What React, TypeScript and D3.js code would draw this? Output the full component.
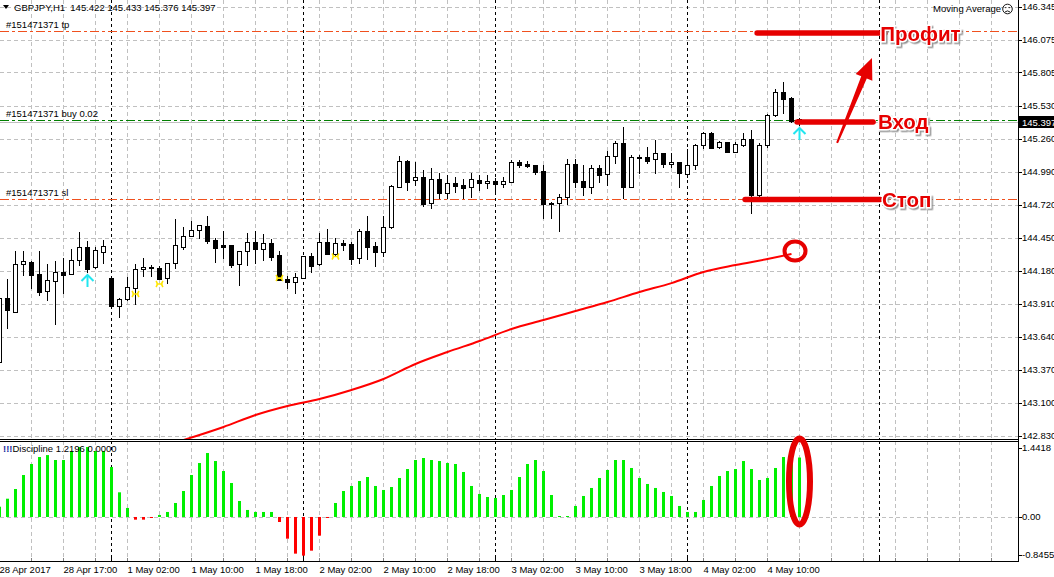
import React from "react";
import * as d3 from "d3";

const W = 1054;
const H = 577;
const PLOT_R = 1018;
const MAIN_B = 439;
const IND_T = 441;
const IND_B = 561;
const FONT = "'Liberation Sans', Arial, sans-serif";

// ---- candles (GBPJPY H1), bar 0 = 28 Apr 09:00 ----
const openP = [
  143.433, 143.956, 143.844, 144.233, 144.249, 144.153, 144.011, 144.093, 144.170, 144.156,
  144.266, 144.372, 144.208, 144.331, 144.118, 143.893, 143.946, 144.036, 144.192, 144.208,
  144.200, 144.118, 144.241, 144.377, 144.467, 144.511, 144.544, 144.432, 144.389, 144.389,
  144.233, 144.340, 144.416, 144.356, 144.405, 144.307, 144.110, 144.085, 144.123, 144.298,
  144.233, 144.413, 144.320, 144.405, 144.397, 144.282, 144.506, 144.380, 144.331, 144.536,
  144.869, 145.079, 144.921, 144.946, 144.733, 144.929, 144.815, 144.897, 144.880, 144.864,
  144.924, 144.897, 144.913, 144.889, 144.910, 145.069, 145.055, 145.044, 144.997, 144.733,
  144.733, 144.787, 145.053, 144.916, 144.869, 145.020, 144.970, 145.118, 145.224, 144.869,
  145.110, 145.110, 145.093, 145.142, 145.052, 145.071, 144.970, 145.044, 145.208, 145.306,
  145.191, 145.232, 145.155, 145.208, 145.257, 144.801, 145.208, 145.454, 145.647, 145.593,
  145.422,
];
const highP = [
  143.973, 144.112, 144.344, 144.342, 144.260, 144.342, 144.233, 144.260, 144.282, 144.356,
  144.500, 144.424, 144.377, 144.432, 144.120, 143.956, 144.131, 144.233, 144.282, 144.227,
  144.221, 144.244, 144.602, 144.536, 144.590, 144.555, 144.629, 144.451, 144.506, 144.391,
  144.342, 144.487, 144.506, 144.479, 144.438, 144.342, 144.137, 144.159, 144.301, 144.323,
  144.487, 144.520, 144.451, 144.432, 144.418, 144.520, 144.629, 144.418, 144.629, 144.883,
  145.122, 145.088, 145.071, 145.006, 145.020, 144.979, 144.965, 144.946, 144.929, 144.979,
  144.965, 144.965, 144.940, 144.951, 145.088, 145.088, 145.077, 145.047, 145.047, 144.740,
  144.809, 145.094, 145.094, 145.047, 145.047, 145.047, 145.164, 145.246, 145.355, 145.129,
  145.129, 145.197, 145.252, 145.145, 145.147, 145.075, 145.175, 145.219, 145.319, 145.319,
  145.243, 145.235, 145.237, 145.311, 145.333, 145.229, 145.462, 145.667, 145.729, 145.606,
  145.433,
];
const lowP = [
  143.424, 143.711, 143.842, 144.145, 144.039, 143.981, 143.940, 143.741, 143.995, 144.151,
  144.227, 144.172, 144.206, 144.246, 143.891, 143.803, 143.944, 143.905, 144.139, 144.139,
  144.112, 144.077, 144.200, 144.361, 144.465, 144.445, 144.410, 144.254, 144.282, 144.213,
  144.063, 144.227, 144.241, 144.268, 144.268, 144.102, 144.036, 143.999, 144.120, 144.172,
  144.227, 144.317, 144.309, 144.350, 144.235, 144.246, 144.274, 144.219, 144.301, 144.530,
  144.866, 144.842, 144.883, 144.711, 144.692, 144.774, 144.774, 144.828, 144.774, 144.787,
  144.842, 144.856, 144.815, 144.864, 144.908, 145.028, 145.028, 144.973, 144.610, 144.610,
  144.508, 144.727, 144.864, 144.801, 144.815, 144.910, 144.883, 145.065, 144.774, 144.866,
  144.979, 145.065, 144.984, 145.028, 145.028, 144.869, 144.951, 145.011, 145.188, 145.186,
  145.188, 145.153, 145.153, 145.205, 144.656, 144.792, 145.196, 145.451, 145.475, 145.399,
  145.376,
];
const closeP = [
  143.956, 143.858, 144.233, 144.258, 144.145, 144.008, 144.104, 144.170, 144.148, 144.268,
  144.372, 144.194, 144.350, 144.380, 143.893, 143.951, 144.044, 144.192, 144.208, 144.200,
  144.115, 144.241, 144.389, 144.467, 144.511, 144.552, 144.426, 144.369, 144.377, 144.227,
  144.340, 144.413, 144.356, 144.405, 144.295, 144.104, 144.085, 144.126, 144.298, 144.221,
  144.413, 144.320, 144.405, 144.394, 144.274, 144.506, 144.377, 144.331, 144.536, 144.874,
  145.079, 144.909, 144.946, 144.727, 144.929, 144.815, 144.897, 144.875, 144.861, 144.929,
  144.897, 144.913, 144.889, 144.913, 145.069, 145.049, 145.038, 144.992, 144.727, 144.738,
  144.782, 145.053, 144.910, 144.869, 145.020, 144.965, 145.118, 145.224, 144.869, 145.110,
  145.106, 145.082, 145.142, 145.052, 145.071, 144.979, 145.044, 145.208, 145.306, 145.188,
  145.232, 145.155, 145.216, 145.257, 144.801, 145.208, 145.454, 145.647, 145.585, 145.410,
  145.397,
];

// ---- "Discipline" histogram ----
const discipline = [
  0.211, 0.375, 0.574, 0.861, 1.087, 1.23, 1.27, 1.169, 1.169, 1.354,
  1.436, 1.436, 1.354, 1.354, 1.025, 0.506, 0.185, -0.055, -0.055, -0.02,
  0.041, 0.103, 0.287, 0.533, 0.861, 1.107, 1.312, 1.148, 0.943, 0.697,
  0.328, 0.144, 0.103, 0.103, 0.103, -0.103, -0.445, -0.752, -0.793, -0.691,
  -0.383, -0.02, 0.287, 0.533, 0.636, 0.738, 0.82, 0.636, 0.554, 0.615,
  0.8, 0.984, 1.169, 1.21, 1.169, 1.148, 1.107, 1.087, 0.923, 0.636,
  0.472, 0.41, 0.39, 0.451, 0.554, 0.82, 1.087, 1.169, 0.943, 0.451,
  0.02, 0.02, 0.226, 0.431, 0.595, 0.8, 0.964, 1.169, 1.169, 1.005,
  0.8, 0.677, 0.595, 0.513, 0.431, 0.226, 0.103, 0.103, 0.349, 0.636,
  0.841, 0.943, 0.984, 1.148, 0.984, 0.759, 0.8, 1.005, 1.23, 1.25,
  1.2196,
];

// ---- Moving average (read at sampled bars) ----
const maBars = [23, 28, 32, 36, 40, 44, 48, 52, 56, 60, 64, 68, 72, 76, 80, 84, 88, 92, 96, 99];
const maValues = [
  142.793, 142.9, 142.998, 143.072, 143.129, 143.203, 143.293, 143.416, 143.514, 143.604,
  143.703, 143.776, 143.85, 143.924, 144.006, 144.079, 144.17, 144.227, 144.276, 144.317,
];

const priceTicks = [146.345, 146.075, 145.805, 145.53, 145.26, 144.99, 144.72, 144.45, 144.18, 143.91, 143.64, 143.37, 143.1, 142.83];
const timeLabelBars = [0, 8, 16, 24, 32, 40, 48, 56, 64, 72, 80, 88, 96];
const timeLabels = [
  "28 Apr 2017", "28 Apr 17:00", "1 May 02:00", "1 May 10:00", "1 May 18:00", "2 May 02:00",
  "2 May 10:00", "2 May 18:00", "3 May 02:00", "3 May 10:00", "3 May 18:00", "4 May 02:00", "4 May 10:00",
];
const daySeparatorBars = [14, 38, 62, 86, 110];
const indTicks = [1.4418, 0, -0.8455];
const indTickLabels = ["1.4418", "0.00", "-0.8455"];

const tpPrice = 146.145;
const buyPrice = 145.415;
const slPrice = 144.765;
const bidPrice = 145.397;
const buyArrowBars = [11, 100];
const yellowBars = [17, 20, 35, 42];
const yellowPrices = [143.99, 144.071, 144.12, 144.297];

// hand-drawn annotations (bar index / price coordinates)
const annoLines = [
  { label: "Профит", b0: 94.7, b1: 110.7, price: 146.128, tb: 110.1 },
  { label: "Вход", b0: 99.7, b1: 109.2, price: 145.399, tb: 109.8 },
  { label: "Стоп", b0: 93.2, b1: 110.1, price: 144.764, tb: 110.3 },
];
const arrowFrom = { bar: 104.7, price: 145.227 };
const arrowTo = { bar: 109.06, price: 145.924 };
const circleAt = { bar: 99.44, price: 144.342 };
const ellipseAt = { bar: 100, value: 0.728 };

export default function App() {
  const x = d3.scaleLinear().domain([0, 127]).range([-0.5, 1015.5]);
  const y = d3.scaleLinear().domain([142.83, 146.075]).range([435.5, 39.5]);
  const yi = d3.scaleLinear().domain([-0.8455, 1.4418]).range([558.2, 446.7]);
  const nBars = 128;
  const px = (v: number) => Math.round(v) + 0.5;

  const gridBars = d3.range(0, nBars).filter((i) => i % 4 === 0);
  const maLine = d3
    .line<number>()
    .x((_, i) => x(maBars[i]))
    .y((v) => y(v))
    .curve(d3.curveMonotoneX)(maValues);

  const redAnno = "#e60000";

  // arrow polygon
  const ax0 = x(arrowFrom.bar), ay0 = y(arrowFrom.price);
  const ax1 = x(arrowTo.bar), ay1 = y(arrowTo.price);
  const len = Math.hypot(ax1 - ax0, ay1 - ay0);
  const ux = (ax1 - ax0) / len, uy = (ay1 - ay0) / len;
  const nx = -uy, ny = ux;
  const headL = 21, headW = 9;
  const bx = ax1 - ux * headL, by = ay1 - uy * headL;
  const arrowPts = [
    [ax0 + nx * 1, ay0 + ny * 1],
    [bx + nx * 3, by + ny * 3],
    [bx + nx * headW, by + ny * headW],
    [ax1, ay1],
    [bx - nx * headW, by - ny * headW],
    [bx - nx * 3, by - ny * 3],
    [ax0 - nx * 1, ay0 - ny * 1],
  ]
    .map((p) => p.join(","))
    .join(" ");

  const zeroY = px(yi(0));

  return (
    <svg
      width={W}
      height={H}
      viewBox={`0 0 ${W} ${H}`}
      style={{ position: "fixed", left: 0, top: 0, background: "#fff", fontFamily: FONT }}
    >
      <defs>
        <clipPath id="mainClip">
          <rect x={0} y={0} width={PLOT_R} height={MAIN_B} />
        </clipPath>
        <clipPath id="indClip">
          <rect x={0} y={IND_T + 1} width={PLOT_R} height={IND_B - IND_T - 1} />
        </clipPath>
        <filter id="shadow" x="-10%" y="-30%" width="130%" height="170%">
          <feDropShadow dx="1.5" dy="1.5" stdDeviation="0.6" floodColor="#888" floodOpacity="0.9" />
        </filter>
      </defs>
      <rect x={0} y={0} width={W} height={H} fill="#fff" />

      {/* ---------- main panel ---------- */}
      <g clipPath="url(#mainClip)">
        {priceTicks.map((p, i) => (
          <line key={"hg" + i} x1={0} x2={PLOT_R} y1={px(y(p))} y2={px(y(p))} stroke="#c0c0c0" strokeDasharray="4,3" />
        ))}
        {gridBars.map((b) => (
          <line key={"vg" + b} x1={x(b)} x2={x(b)} y1={0} y2={MAIN_B} stroke="#c0c0c0" strokeDasharray="4,3" />
        ))}
        {daySeparatorBars.map((b) => (
          <line key={"ds" + b} x1={x(b)} x2={x(b)} y1={0} y2={MAIN_B} stroke="#000" strokeDasharray="3,3" />
        ))}

        <line x1={0} x2={PLOT_R} y1={px(y(tpPrice))} y2={px(y(tpPrice))} stroke="#f0501e" strokeDasharray="9,3,3,3" />
        <line x1={0} x2={PLOT_R} y1={px(y(slPrice))} y2={px(y(slPrice))} stroke="#f0501e" strokeDasharray="9,3,3,3" />
        <line x1={0} x2={PLOT_R} y1={px(y(bidPrice))} y2={px(y(bidPrice))} stroke="#c0c0c0" />
        <line x1={0} x2={PLOT_R} y1={px(y(buyPrice))} y2={px(y(buyPrice))} stroke="#008000" strokeDasharray="9,3,3,3" />

        <path d={maLine || ""} fill="none" stroke="#ff0000" strokeWidth={2} />

        {openP.map((o, i) => {
          const c = closeP[i];
          const cx = x(i);
          const yH = Math.round(y(highP[i]));
          const yL = Math.round(y(lowP[i]));
          const yO = Math.round(y(o));
          const yC = Math.round(y(c));
          const top = Math.min(yO, yC);
          const bot = Math.max(yO, yC);
          const bull = c >= o;
          return (
            <g key={"c" + i}>
              <line x1={cx} x2={cx} y1={yH} y2={yL + 1} stroke="#000" />
              {bull ? (
                <rect x={cx - 2} y={top + 0.5} width={4} height={Math.max(bot - top, 1)} fill="#fff" stroke="#000" />
              ) : (
                <rect x={cx - 2.5} y={top} width={5} height={Math.max(bot - top + 1, 2)} fill="#000" />
              )}
            </g>
          );
        })}

        {buyArrowBars.map((b) => {
          const cx = x(b);
          const y0 = Math.round(y(lowP[b])) + 3;
          return (
            <g key={"ba" + b} stroke="#22e6f0" strokeWidth={2} fill="none">
              <line x1={cx} x2={cx} y1={y0 + 1} y2={y0 + 12} />
              <polyline points={`${cx - 6},${y0 + 6} ${cx},${y0} ${cx + 6},${y0 + 6}`} />
            </g>
          );
        })}
        {yellowBars.map((b, i) => {
          const cx = x(b);
          const cy = y(yellowPrices[i]);
          return (
            <path
              key={"ym" + b}
              d={`M${cx - 3.5},${cy - 3} Q${cx - 1},${cy} ${cx - 3.5},${cy + 3} M${cx + 3.5},${cy - 3} Q${cx + 1},${cy} ${cx + 3.5},${cy + 3} M${cx - 2},${cy} H${cx + 2}`}
              stroke="#ffe600"
              strokeWidth={1.6}
              fill="none"
            />
          );
        })}
      </g>

      <path d="M3,5 L9,5 L6,9 Z" fill="#000" />
      <text x={14} y={11} fontSize={9.5} fill="#000">
        GBPJPY,H1{"\u00a0\u00a0"}145.422 145.433 145.376 145.397
      </text>
      <text x={6} y={y(tpPrice) - 3} fontSize={9.5} fill="#000">#151471371 tp</text>
      <text x={6} y={y(buyPrice) - 3} fontSize={9.5} fill="#000">#151471371 buy 0.02</text>
      <text x={6} y={y(slPrice) - 3} fontSize={9.5} fill="#000">#151471371 sl</text>
      <text x={1001} y={12} fontSize={9.5} fill="#000" textAnchor="end">Moving Average</text>
      <g stroke="#000" fill="none" strokeWidth={0.9}>
        <circle cx={1007.5} cy={9} r={4.8} />
        <path d="M1005,12 Q1007.5,9.8 1010,12" />
      </g>
      <circle cx={1005.8} cy={7.6} r={0.7} fill="#000" />
      <circle cx={1009.2} cy={7.6} r={0.7} fill="#000" />

      {/* ---------- indicator panel ---------- */}
      <g clipPath="url(#indClip)">
        <line x1={0} x2={PLOT_R} y1={zeroY} y2={zeroY} stroke="#c0c0c0" strokeDasharray="4,3" />
        {gridBars.map((b) => (
          <line key={"ivg" + b} x1={x(b)} x2={x(b)} y1={IND_T} y2={IND_B} stroke="#c0c0c0" strokeDasharray="4,3" />
        ))}
        {daySeparatorBars.map((b) => (
          <line key={"ids" + b} x1={x(b)} x2={x(b)} y1={IND_T} y2={IND_B} stroke="#000" strokeDasharray="3,3" />
        ))}
        {discipline.map((v, i) => {
          const y0 = yi(0);
          const y1 = yi(v);
          return (
            <rect
              key={"h" + i}
              x={x(i) - 1.5}
              y={Math.min(y0, y1)}
              width={3}
              height={Math.max(Math.abs(y1 - y0), 1)}
              fill={v >= 0 ? "#00f000" : "#ff0000"}
            />
          );
        })}
      </g>
      <text x={3} y={452} fontSize={9.5} fill="#000">
        <tspan fill="#1a2ca0" fontWeight="bold">!!!</tspan>
        <tspan>Discipline 1.2196 0.0000</tspan>
      </text>

      {/* ---------- frames ---------- */}
      <line x1={0} x2={PLOT_R} y1={MAIN_B + 0.5} y2={MAIN_B + 0.5} stroke="#000" />
      <line x1={0} x2={PLOT_R} y1={IND_T + 0.5} y2={IND_T + 0.5} stroke="#000" />
      <line x1={0} x2={PLOT_R + 1} y1={IND_B + 0.5} y2={IND_B + 0.5} stroke="#000" />
      <line x1={PLOT_R + 0.5} x2={PLOT_R + 0.5} y1={0} y2={IND_B + 1} stroke="#000" />

      {priceTicks.map((p, i) => (
        <g key={"pt" + i}>
          <line x1={PLOT_R} x2={PLOT_R + 4} y1={px(y(p))} y2={px(y(p))} stroke="#000" />
          <text x={PLOT_R + 4} y={y(p)} dy="0.35em" fontSize={9.5} fill="#000">
            {p.toFixed(3)}
          </text>
        </g>
      ))}
      <rect x={PLOT_R + 1} y={px(y(bidPrice)) - 6.5} width={W - PLOT_R} height={12} fill="#000" />
      <text x={PLOT_R + 4} y={y(bidPrice)} dy="0.35em" fontSize={9.5} fill="#fff">
        {bidPrice.toFixed(3)}
      </text>

      {indTicks.map((v, i) => {
        const ty = Math.min(Math.max(yi(v), IND_T + 7), IND_B - 6);
        return (
          <g key={"it" + i}>
            <line x1={PLOT_R} x2={PLOT_R + 4} y1={px(ty)} y2={px(ty)} stroke="#000" />
            <text x={PLOT_R + 4} y={ty} dy="0.35em" fontSize={9.5} fill="#000">
              {indTickLabels[i]}
            </text>
          </g>
        );
      })}

      {gridBars
        .filter((b) => x(b) < PLOT_R)
        .map((b) => (
          <line key={"tt" + b} x1={x(b)} x2={x(b)} y1={IND_B - 3} y2={IND_B} stroke="#808080" />
        ))}
      {daySeparatorBars.map((b) => (
        <line key={"tds" + b} x1={x(b)} x2={x(b)} y1={IND_B - 5} y2={IND_B} stroke="#000" />
      ))}
      {timeLabelBars.map((b, i) => (
        <text key={"tl" + b} x={x(b)} y={573} fontSize={9.5} fill="#000">
          {timeLabels[i]}
        </text>
      ))}

      {/* ---------- hand-drawn annotations ---------- */}
      {annoLines.map((a) => (
        <g key={a.label}>
          <line
            x1={x(a.b0)}
            x2={x(a.b1)}
            y1={y(a.price)}
            y2={y(a.price)}
            stroke={redAnno}
            strokeWidth={5.5}
            strokeLinecap="round"
          />
          <text
            x={x(a.tb)}
            y={y(a.price) + 7.5}
            fontSize={20.5}
            fontWeight="bold"
            fill={redAnno}
            stroke="#fff"
            strokeWidth={3}
            paintOrder="stroke"
            filter="url(#shadow)"
          >
            {a.label}
          </text>
        </g>
      ))}
      <polygon points={arrowPts} fill={redAnno} />
      <ellipse cx={x(circleAt.bar)} cy={y(circleAt.price)} rx={10.5} ry={9.5} fill="none" stroke={redAnno} strokeWidth={4} />
      <ellipse cx={x(ellipseAt.bar)} cy={yi(ellipseAt.value)} rx={10.5} ry={43} fill="none" stroke={redAnno} strokeWidth={6} />
    </svg>
  );
}
